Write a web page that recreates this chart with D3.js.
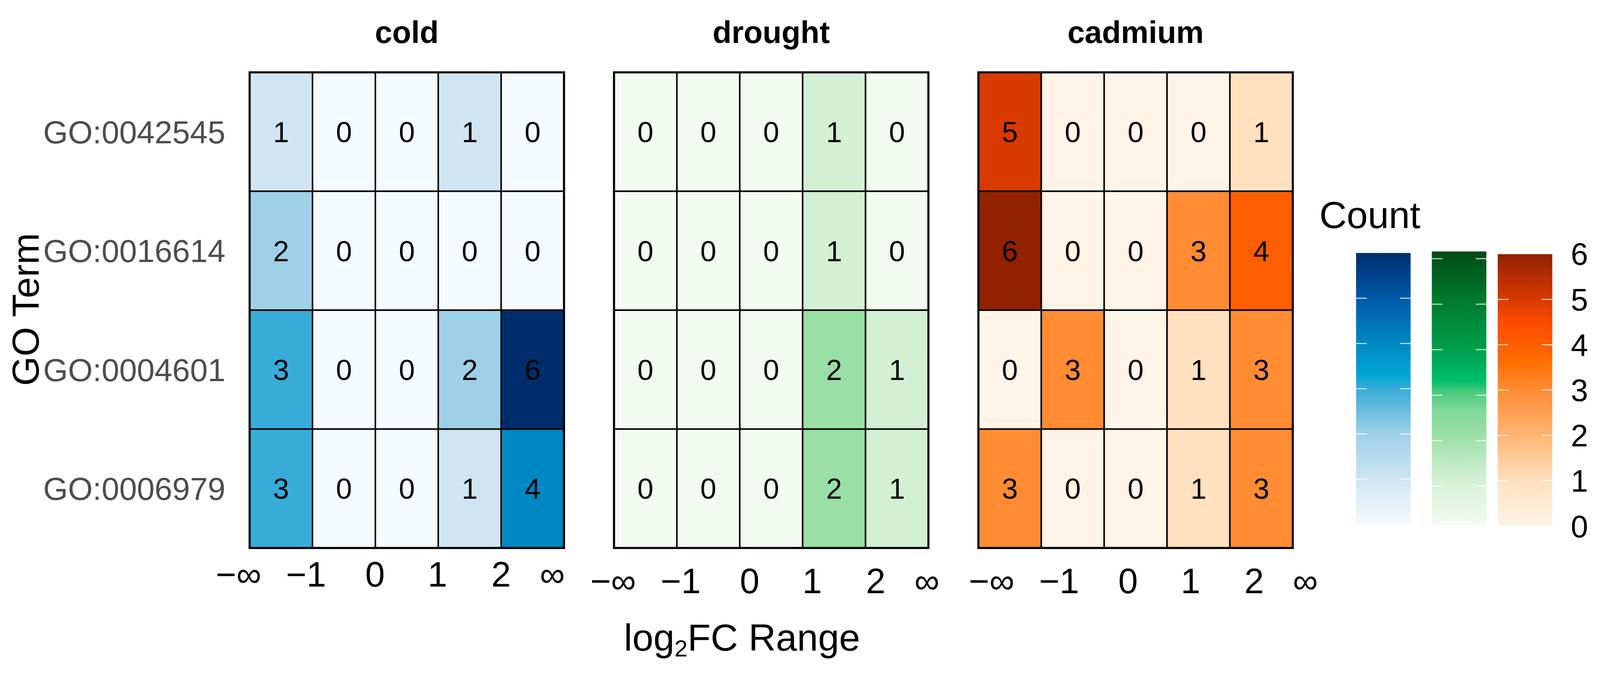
<!DOCTYPE html>
<html lang="en">
<head>
    <meta charset="UTF-8">
    <script src="https://cdnjs.cloudflare.com/ajax/libs/d3/7.8.5/d3.min.js"></script>
    <style>
        html, body {
            margin: 0;
            padding: 0;
            overflow: hidden;
            background: #fff;
        }

        svg {
            display: block;
            width: 100vw;
            height: 100vh;
            font-family: "Liberation Sans", Arial, sans-serif;
        }
    </style>
</head>
<body>
<svg id="chart" viewBox="0 0 4224 1731" preserveAspectRatio="xMidYMid meet"></svg>
<script>
    // rows (top to bottom) and log2FC bins (left to right)
    var goTerms = ["GO:0042545", "GO:0016614", "GO:0004601", "GO:0006979"];
    var bins = ["(-Inf,-1]", "(-1,0]", "(0,1]", "(1,2]", "(2,Inf)"];
    var binEdgeLabels = ["\u2212\u221e", "\u22121", "0", "1", "2", "\u221e"];
    var conditions = ["cold", "drought", "cadmium"];

    // counts, one row per GO term
    var cold = [
        [1, 0, 0, 1, 0],
        [2, 0, 0, 0, 0],
        [3, 0, 0, 2, 6],
        [3, 0, 0, 1, 4]
    ];
    var drought = [
        [0, 0, 0, 1, 0],
        [0, 0, 0, 1, 0],
        [0, 0, 0, 2, 1],
        [0, 0, 0, 2, 1]
    ];
    var cadmium = [
        [5, 0, 0, 0, 1],
        [6, 0, 0, 3, 4],
        [0, 3, 0, 1, 3],
        [3, 0, 0, 1, 3]
    ];

    var countTicks = [0, 1, 2, 3, 4, 5, 6];

    // colour ramps (value -> colour) for each condition
    var blueStops = [0, 1, 2, 3, 3.3, 4, 5, 6];
    var blueColors = ["#f5faff", "#d0e5f3", "#9ed0e7", "#38acd8", "#00a6d4", "#0088c2", "#0059a8", "#002d6c"];
    var greenStops = [0, 1, 2, 2.5, 2.9, 3.15, 4, 5, 6];
    var greenColors = ["#f3faf2", "#d3f0d4", "#99dfa6", "#7fd89b", "#4fcb80", "#00be69", "#009a48", "#00782d", "#004a16"];
    var orangeStops = [0, 1, 2, 3, 3.6, 4, 4.5, 5, 6];
    var orangeColors = ["#fff4e8", "#ffe0bf", "#ffb573", "#ff8c33", "#ff7000", "#ff5e00", "#fc4b00", "#d83a00", "#922100"];

    var panels = [
        {name: conditions[0], data: cold, stops: blueStops, colors: blueColors},
        {name: conditions[1], data: drought, stops: greenStops, colors: greenColors},
        {name: conditions[2], data: cadmium, stops: orangeStops, colors: orangeColors}
    ];

    var svg = d3.select("#chart");

    var panelW = 830, panelStep = 962, panelX0 = 659;
    var y = d3.scaleBand().domain(goTerms).range([164, 1420]);

    // edge label placement (in cell widths from panel left), as drawn in the original
    var edgePos = [-0.175, 0.898, 1.994, 2.988, 4.0, 4.813];
    var edgeShift = [0, 27, 64];
    var edgeBase = [1522, 1539, 1539];

    panels.forEach(function (p, pi) {
        var left = panelX0 + pi * panelStep;
        var x = d3.scaleBand().domain(bins).range([left, left + panelW]);
        var edge = d3.scaleLinear().domain([0, bins.length]).range([left, left + panelW]);
        var color = d3.scaleLinear().domain(p.stops).range(p.colors).clamp(true);

        var g = svg.append("g").attr("class", "panel");

        var cells = [];
        p.data.forEach(function (row, ri) {
            row.forEach(function (v, ci) {
                cells.push({term: goTerms[ri], bin: bins[ci], value: v});
            });
        });

        g.selectAll("rect.cell").data(cells).enter().append("rect")
            .attr("class", "cell")
            .attr("x", function (d) { return x(d.bin); })
            .attr("y", function (d) { return y(d.term); })
            .attr("width", x.bandwidth())
            .attr("height", y.bandwidth())
            .attr("fill", function (d) { return color(d.value); })
            .attr("stroke", "#000")
            .attr("stroke-width", 4);

        g.selectAll("text.val").data(cells).enter().append("text")
            .attr("class", "val")
            .attr("x", function (d) { return x(d.bin) + x.bandwidth() / 2; })
            .attr("y", function (d) { return y(d.term) + y.bandwidth() / 2; })
            .attr("dy", "0.36em")
            .attr("text-anchor", "middle")
            .attr("font-size", 76)
            .attr("fill", "#000")
            .text(function (d) { return d.value; });

        // panel frame
        g.append("rect")
            .attr("x", left)
            .attr("y", y.range()[0])
            .attr("width", panelW)
            .attr("height", y.range()[1] - y.range()[0])
            .attr("fill", "none")
            .attr("stroke", "#000")
            .attr("stroke-width", 5.5);

        // facet title
        g.append("text")
            .attr("x", left + panelW / 2)
            .attr("y", 86)
            .attr("text-anchor", "middle")
            .attr("font-size", 82)
            .attr("font-weight", "bold")
            .attr("fill", "#000")
            .text(p.name);

        // bin edge labels
        g.selectAll("text.edge").data(binEdgeLabels).enter().append("text")
            .attr("class", "edge")
            .attr("x", function (d, i) { return edge(edgePos[i]) + edgeShift[pi]; })
            .attr("y", edgeBase[pi])
            .attr("text-anchor", "middle")
            .attr("font-size", 93)
            .attr("fill", "#000")
            .text(function (d) { return d; });

        // GO labels only on the first panel
        if (pi === 0) {
            g.selectAll("text.term").data(goTerms).enter().append("text")
                .attr("class", "term")
                .attr("x", left - 64)
                .attr("y", function (d) { return y(d) + y.bandwidth() / 2; })
                .attr("dy", "0.36em")
                .attr("text-anchor", "end")
                .attr("font-size", 84)
                .attr("fill", "#4d4d4d")
                .text(function (d) { return d; });
        }
    });

    // axis titles
    svg.append("text")
        .attr("transform", "translate(102,790) rotate(-90)")
        .attr("text-anchor", "middle")
        .attr("font-size", 100)
        .attr("fill", "#000")
        .text("GO Term");

    var xt = svg.append("text")
        .attr("x", 1959)
        .attr("y", 1691)
        .attr("text-anchor", "middle")
        .attr("font-size", 100)
        .attr("fill", "#000");
    xt.append("tspan").text("log");
    xt.append("tspan").attr("font-size", 62).attr("dy", 16).text("2");
    xt.append("tspan").attr("dy", -16).text("FC Range");

    // legend
    var legend = svg.append("g").attr("class", "legend");
    legend.append("text")
        .attr("x", 3483)
        .attr("y", 575)
        .attr("font-size", 100)
        .attr("fill", "#000")
        .text("Count");

    var barX = [3580, 3780, 3954], barW = 144;
    var barTop = [641, 637, 644], barBottom = [1358, 1358, 1362];
    var tickNudge = [0, 19, 0];
    var tickVals = [[1, 2, 3, 4, 5], [1, 2, 3, 4, 5, 6], [1, 2, 3, 4, 5]];
    var defs = svg.append("defs");

    panels.forEach(function (p, pi) {
        var ly = d3.scaleLinear().domain([0, 6]).range([barBottom[pi], barTop[pi]]);
        var gid = "grad" + pi;
        var grad = defs.append("linearGradient")
            .attr("id", gid)
            .attr("x1", 0).attr("y1", 1).attr("x2", 0).attr("y2", 0);
        grad.selectAll("stop").data(p.stops).enter().append("stop")
            .attr("offset", function (d) { return d / 6; })
            .attr("stop-color", function (d, i) { return p.colors[i]; });

        legend.append("rect")
            .attr("x", barX[pi])
            .attr("y", ly(6))
            .attr("width", barW)
            .attr("height", ly(0) - ly(6))
            .attr("fill", "url(#" + gid + ")");

        tickVals[pi].forEach(function (v) {
            var ty = ly(v) + tickNudge[pi];
            [[barX[pi], barX[pi] + 28], [barX[pi] + barW - 28, barX[pi] + barW]].forEach(function (seg) {
                legend.append("line")
                    .attr("x1", seg[0]).attr("x2", seg[1])
                    .attr("y1", ty).attr("y2", ty)
                    .attr("stroke", "#fff")
                    .attr("stroke-opacity", 0.85)
                    .attr("stroke-width", 2.5);
            });
        });
    });

    var labY = d3.scaleLinear().domain([0, 6]).range([1362, 643]);
    legend.selectAll("text.lab").data(countTicks).enter().append("text")
        .attr("class", "lab")
        .attr("x", 4147)
        .attr("y", function (d) { return labY(d); })
        .attr("dy", "0.36em")
        .attr("font-size", 82)
        .attr("fill", "#000")
        .text(function (d) { return d; });
</script>
</body>
</html>
